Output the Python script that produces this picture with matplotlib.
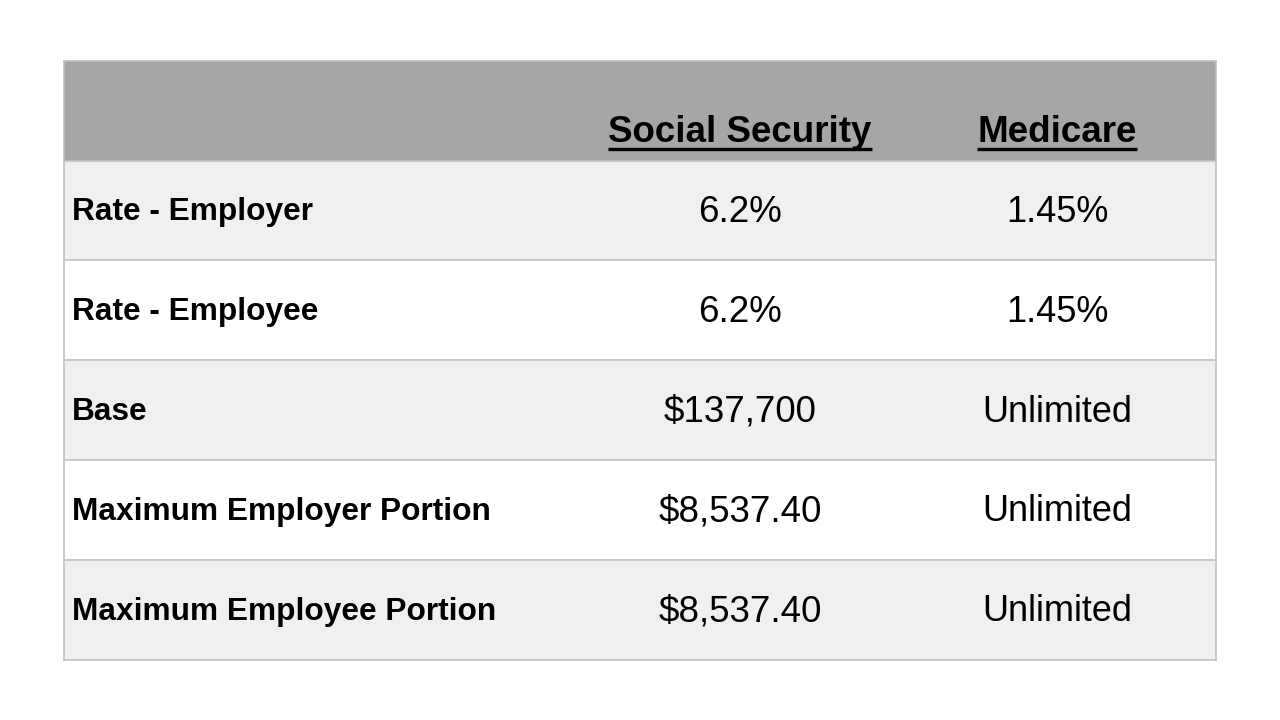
import matplotlib.pyplot as plt
from matplotlib.patches import Rectangle

plt.rcParams['font.family'] = ['Liberation Sans', 'DejaVu Sans']

columns = ["Social Security", "Medicare"]
row_labels = ["Rate - Employer", "Rate - Employee", "Base",
              "Maximum Employer Portion", "Maximum Employee Portion"]
social_security = ["6.2%", "6.2%", "$137,700", "$8,537.40", "$8,537.40"]
medicare = ["1.45%", "1.45%", "Unlimited", "Unlimited", "Unlimited"]

# layout in pixels
left, right = 63.5, 1216
top = 60.5
header_h = 100
row_h = 99.8
col_centers = [740, 1057]
label_x = 72

fig = plt.figure(figsize=(12.8, 7.2), dpi=100)
ax = fig.add_axes([0, 0, 1, 1])
ax.set_xlim(0, 1280)
ax.set_ylim(720, 0)
ax.axis("off")

# header band
ax.add_patch(Rectangle((left, top), right - left, header_h,
                       facecolor="#a6a6a6", edgecolor="none"))
header_texts = []
for c, name in zip(col_centers, columns):
    t = ax.text(c, top + 72, name, ha="center", va="center",
                fontsize=26.5, fontweight="bold", color="black")
    header_texts.append(t)

# body rows
n = len(row_labels)
for i in range(n):
    y0 = top + header_h + i * row_h
    face = "#f0f0f0" if i % 2 == 0 else "white"
    ax.add_patch(Rectangle((left, y0), right - left, row_h,
                           facecolor=face, edgecolor="none"))
    ax.plot([left, right], [y0, y0], color="#c0c0c0", lw=1.2)
    yc = y0 + row_h / 2 + 2
    ax.text(label_x, yc, row_labels[i], ha="left", va="center",
            fontsize=22.8, fontweight="bold", color="black")
    ax.text(col_centers[0], yc, social_security[i], ha="center", va="center",
            fontsize=26.5, color="black")
    ax.text(col_centers[1], yc, medicare[i], ha="center", va="center",
            fontsize=26, color="black")

bottom = top + header_h + n * row_h
ax.plot([left, right], [bottom, bottom], color="#c0c0c0", lw=1.2)
ax.plot([left, left], [top, bottom], color="#c0c0c0", lw=1.2)
ax.plot([right, right], [top, bottom], color="#c0c0c0", lw=1.2)
ax.plot([left, right], [top, top], color="#c0c0c0", lw=1.2)

# underline the header texts
fig.canvas.draw()
renderer = fig.canvas.get_renderer()
inv = ax.transData.inverted()
for t in header_texts:
    bb = t.get_window_extent(renderer)
    x0, _ = inv.transform((bb.x0, bb.y0))
    x1, _ = inv.transform((bb.x1, bb.y0))
    ax.plot([x0, x1], [top + 88, top + 88], color="black", lw=2.4,
            solid_capstyle="butt")

fig.savefig("out.png", dpi=100)
plt.close(fig)
